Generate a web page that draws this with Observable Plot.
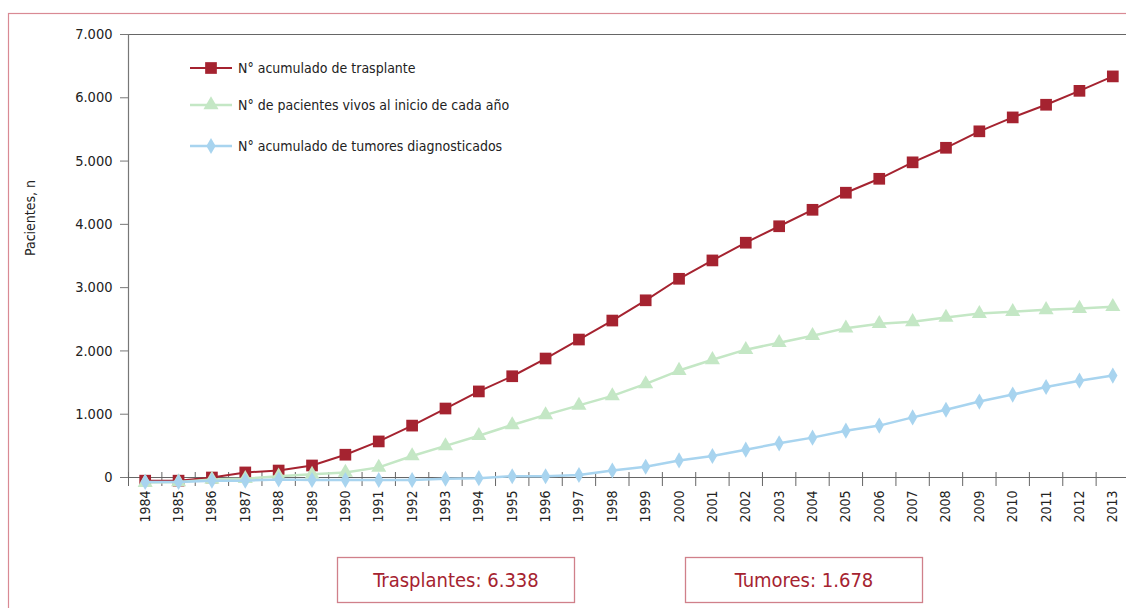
<!DOCTYPE html>
<html><head><meta charset="utf-8">
<script src="https://cdn.jsdelivr.net/npm/d3@7"></script>
<script src="https://cdn.jsdelivr.net/npm/@observablehq/plot@0.6"></script>
<style>
html,body{margin:0;padding:0;background:#fff;overflow:hidden;}
#chart{width:1126px;height:608px;}
</style></head><body><div id="chart"></div>
<script>
// ---- data ----
const years = [1984,1985,1986,1987,1988,1989,1990,1991,1992,1993,1994,1995,1996,1997,1998,1999,2000,2001,2002,2003,2004,2005,2006,2007,2008,2009,2010,2011,2012,2013];
const trasplantes = [-50,-50,0,80,110,190,360,570,820,1090,1360,1600,1880,2180,2480,2800,3140,3430,3710,3970,4230,4500,4720,4980,5210,5470,5690,5890,6110,6338];
const vivos = [-80,-70,-30,-20,20,50,80,160,340,500,660,830,990,1140,1290,1480,1690,1860,2020,2130,2240,2360,2430,2460,2530,2590,2620,2650,2670,2700];
const tumores = [-70,-70,-50,-50,-30,-40,-40,-40,-40,-20,-10,20,20,40,110,170,270,340,440,540,630,740,820,950,1070,1200,1310,1430,1530,1610];
const seriesNames = ["N° acumulado de trasplante","N° de pacientes vivos al inicio de cada año","N° acumulado de tumores diagnosticados"];
const yTicks = [0,1000,2000,3000,4000,5000,6000,7000];
const yLabel = "Pacientes, n";
const totalLabels = ["Trasplantes", "Tumores"];
const totalValues = [6338, 1678];

// ---- styling ----
const FONT = '"Liberation Sans Narrow","DejaVu Sans Condensed","Roboto Condensed",sans-serif';
const colors = ["#a52330", "#c4e7c5", "#a8d4ef"];
const symbols = ["square", "triangle", "diamond"];
const radii = [6.6, 5.6, 4.9];
const widths = [2, 2.5, 2.5];
const loc = d3.formatLocale({decimal: ",", thousands: ".", grouping: [3], currency: ["", "€"]});
const fmt = loc.format(",");

const series = [trasplantes, vivos, tumores];
const rows = series.map((vals, s) => years.map((yr, i) => ({year: yr, value: vals[i], s})));
const halfTicks = [years[0] - 0.5, ...years.slice(0, -1).map(y => y + 0.5)];

const marks = [
  Plot.ruleY([yTicks[yTicks.length - 1]], {stroke: "#666", strokeWidth: 1.2}),
  Plot.ruleX([years[0] - 0.5], {stroke: "#777", strokeWidth: 1.2}),
  Plot.axisY({ticks: yTicks, tickSize: 8, tickPadding: 8, tickFormat: fmt, label: null, stroke: "#777", fontSize: 14.5, fill: "#222"}),
  Plot.axisX({ticks: halfTicks, tickSize: 14, dy: -5, tickFormat: () => "", label: null, stroke: "#666"}),
  Plot.axisX({ticks: years, tickSize: 0, tickPadding: 13, tickRotate: -90, tickFormat: d => String(d), label: null, fontSize: 14, fill: "#222"}),
  Plot.ruleY([0], {stroke: "#666", strokeWidth: 1.2}),
  Plot.text([yLabel], {frameAnchor: "left", dx: -98, rotate: -90, fontSize: 14, fill: "#222"})
];
rows.forEach((data, s) => {
  marks.push(Plot.line(data, {x: "year", y: "value", stroke: colors[s], strokeWidth: widths[s], clip: false}));
  marks.push(Plot.dot(data, {x: "year", y: "value", symbol: symbols[s], r: radii[s], fill: colors[s], stroke: "none"}));
});

const svg = Plot.plot({
  width: 1126, height: 608,
  marginLeft: 128, marginTop: 34, marginBottom: 131, marginRight: 0,
  style: {fontFamily: FONT, fontSize: "14px", color: "#222", background: "white", overflow: "visible"},
  x: {type: "linear", domain: [years[0] - 0.5, years[years.length - 1] + 0.5], range: [128, 1129]},
  y: {domain: [yTicks[0], yTicks[yTicks.length - 1]]},
  marks
});
document.getElementById("chart").appendChild(svg);

// ---- decorations: legend, totals boxes, outer border ----
const g = d3.select(svg).append("g").attr("font-family", FONT);
g.append("rect").attr("x", 8.5).attr("y", 13.5).attr("width", 1300).attr("height", 800)
  .attr("fill", "none").attr("stroke", "#d98a94").attr("stroke-width", 1.2);

const legY = [68, 105, 146];
seriesNames.forEach((name, s) => {
  const lg = g.append("g").attr("transform", `translate(0,${legY[s]})`);
  lg.append("line").attr("x1", 190).attr("x2", 232).attr("stroke", colors[s]).attr("stroke-width", widths[s]);
  lg.append("path").attr("transform", "translate(211,0)")
    .attr("d", d3.symbol(s === 0 ? d3.symbolSquare : s === 1 ? d3.symbolTriangle : d3.symbolDiamond, Math.PI * radii[s] * radii[s])())
    .attr("fill", colors[s]);
  lg.append("text").attr("x", 238).attr("dy", "0.35em").attr("text-anchor", "start")
    .attr("font-size", 14).attr("fill", "#222").text(name);
});

const boxX = [337.5, 685.5];
totalLabels.forEach((lab, i) => {
  g.append("rect").attr("x", boxX[i]).attr("y", 557.5).attr("width", 237).attr("height", 45)
    .attr("fill", "white").attr("stroke", "#d0808a").attr("stroke-width", 1.3);
  g.append("text").attr("x", boxX[i] + 118.5).attr("y", 580).attr("dy", "0.35em")
    .attr("text-anchor", "middle").attr("font-size", 20).attr("fill", "#a52330")
    .text(`${lab}: ${fmt(totalValues[i])}`);
});
</script></body></html>
